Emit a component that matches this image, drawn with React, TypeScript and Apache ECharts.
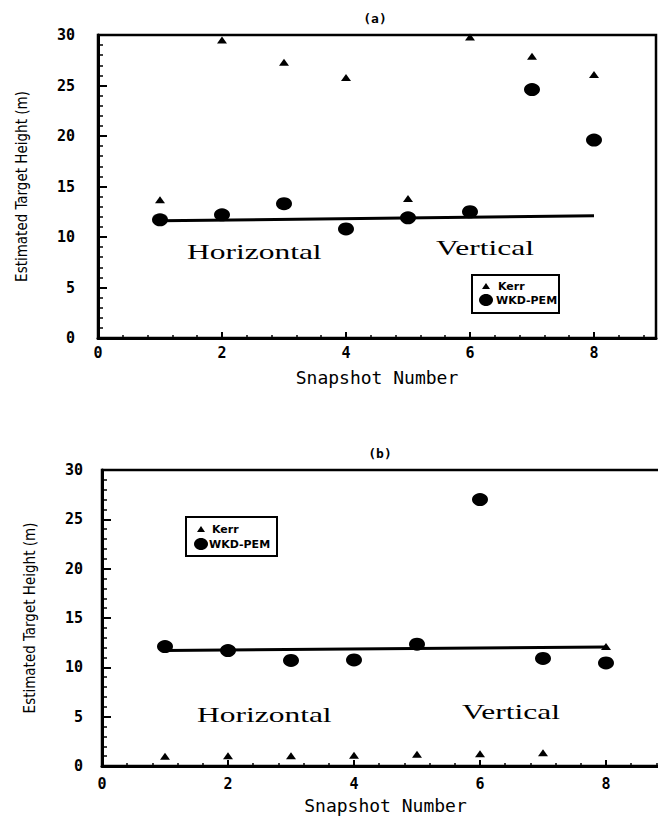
import { useEffect, useRef } from "react";
import * as echarts from "echarts";

// ---- data ----
const snapshots = [1, 2, 3, 4, 5, 6, 7, 8];
const kerrA = [13.7, 29.5, 27.3, 25.8, 13.8, 29.8, 27.9, 26.1];
const wkdA = [11.7, 12.2, 13.3, 10.8, 11.9, 12.5, 24.6, 19.6];
const trueLineA = [
  [1, 11.6],
  [8, 12.1],
];
const kerrB = [1.0, 1.05, 1.05, 1.1, 1.2, 1.25, 1.35, 12.1];
const wkdB = [12.1, 11.7, 10.7, 10.75, 12.35, 27.0, 10.9, 10.45];
const trueLineB = [
  [1, 11.7],
  [8, 12.05],
];
const panelTitles = ["(a)", "(b)"];
const seriesNames = ["Kerr", "WKD-PEM"];
const regionLabels = ["Horizontal", "Vertical"];
const xName = "Snapshot Number";
const yName = "Estimated Target Height (m)";

const pairs = (ys: number[]) => snapshots.map((x, i) => [x, ys[i]]);

const MONO = "DejaVu Sans Mono, Liberation Mono, monospace";

const yAxisCfg = (gridIndex: number, labelMargin: number, nameGap: number) => ({
  type: "value",
  gridIndex,
  min: 0,
  max: 30,
  interval: 5,
  name: yName,
  nameLocation: "middle",
  nameGap,
  nameRotate: 90,
  nameTextStyle: {
    fontFamily: "DejaVu Sans Condensed, DejaVu Sans, sans-serif",
    fontSize: 15,
    color: "#000",
  },
  axisLine: { show: true, lineStyle: { color: "#000", width: 3 } },
  axisTick: { show: true, inside: true, length: 9, lineStyle: { color: "#000", width: 2 } },
  minorTick: { show: true, splitNumber: 5, length: 5, lineStyle: { color: "#000", width: 1.5 } },
  splitLine: { show: false },
  axisLabel: {
    margin: labelMargin,
    fontFamily: MONO,
    fontWeight: "bold",
    fontSize: 15,
    color: "#000",
  },
});

const xAxisCfg = (gridIndex: number, labelMargin: number, nameGap: number) => ({
  type: "value",
  gridIndex,
  min: 0,
  max: 9,
  interval: 2,
  name: xName,
  nameLocation: "middle",
  nameGap,
  nameTextStyle: { fontFamily: MONO, fontSize: 18, color: "#000" },
  axisLine: { show: true, onZero: false, lineStyle: { color: "#000", width: 3 } },
  axisTick: { show: true, inside: true, length: 6, lineStyle: { color: "#000", width: 2 } },
  minorTick: { show: true, splitNumber: 5, length: 3, lineStyle: { color: "#000", width: 1.5 } },
  splitLine: { show: false },
  axisLabel: {
    margin: labelMargin,
    showMaxLabel: false,
    fontFamily: MONO,
    fontWeight: "bold",
    fontSize: 15,
    color: "#000",
  },
});

const serifText = (text: string, x: number, y: number) => ({
  type: "text",
  x,
  y,
  scaleX: 1.5,
  style: {
    text,
    fill: "#000",
    font: "21px 'Liberation Serif', 'Times New Roman', serif",
    align: "left",
    verticalAlign: "middle",
  },
});

const legendBox = (
  bx: number,
  by: number,
  bw: number,
  bh: number,
  sx: number,
  row1: number,
  row2: number,
  t1: number,
  t2: number
) => [
  {
    type: "rect",
    shape: { x: bx, y: by, width: bw, height: bh },
    style: { fill: "#fff", stroke: "#000", lineWidth: 2 },
    z: 10,
  },
  {
    type: "polygon",
    shape: {
      points: [
        [sx - 4, row1 + 3],
        [sx + 4, row1 + 3],
        [sx, row1 - 3],
      ],
    },
    style: { fill: "#000" },
    z: 11,
  },
  {
    type: "text",
    x: t1,
    y: row1,
    style: {
      text: seriesNames[0],
      fill: "#000",
      font: "bold 11px 'DejaVu Sans', sans-serif",
      verticalAlign: "middle",
    },
    z: 11,
  },
  {
    type: "ellipse",
    shape: { cx: sx, cy: row2, rx: 7, ry: 6 },
    style: { fill: "#000" },
    z: 11,
  },
  {
    type: "text",
    x: t2,
    y: row2,
    style: {
      text: seriesNames[1],
      fill: "#000",
      font: "bold 11px 'DejaVu Sans', sans-serif",
      verticalAlign: "middle",
    },
    z: 11,
  },
];

export default function App() {
  const ref = useRef<HTMLDivElement>(null);

  useEffect(() => {
    if (!ref.current) return;
    const chart = echarts.init(ref.current, undefined, { renderer: "svg" });

    const lineSeries = (data: number[][], idx: number) => ({
      type: "line",
      xAxisIndex: idx,
      yAxisIndex: idx,
      data,
      showSymbol: false,
      symbol: "none",
      lineStyle: { color: "#000", width: 3 },
      z: 2,
    });
    const kerrSeries = (ys: number[], idx: number) => ({
      name: seriesNames[0],
      type: "scatter",
      xAxisIndex: idx,
      yAxisIndex: idx,
      data: pairs(ys),
      symbol: "triangle",
      symbolSize: [10, 7],
      itemStyle: { color: "#000", opacity: 1 },
      z: 3,
    });
    const wkdSeries = (ys: number[], idx: number) => ({
      name: seriesNames[1],
      type: "scatter",
      xAxisIndex: idx,
      yAxisIndex: idx,
      data: pairs(ys),
      symbol: "circle",
      symbolSize: [16, 13],
      itemStyle: { color: "#000", opacity: 1 },
      z: 4,
    });

    chart.setOption({
      animation: false,
      backgroundColor: "#fff",
      grid: [
        {
          left: 98,
          top: 35,
          width: 558,
          height: 303,
          show: true,
          borderColor: "#000",
          borderWidth: 2.5,
          backgroundColor: "transparent",
        },
        {
          left: 102,
          top: 470,
          width: 567,
          height: 296,
          show: true,
          borderColor: "#000",
          borderWidth: 2.5,
          backgroundColor: "transparent",
        },
      ],
      xAxis: [xAxisCfg(0, 7, 30), xAxisCfg(1, 10, 30)],
      yAxis: [yAxisCfg(0, 23, 69), yAxisCfg(1, 19, 65)],
      series: [
        lineSeries(trueLineA, 0),
        kerrSeries(kerrA, 0),
        wkdSeries(wkdA, 0),
        lineSeries(trueLineB, 1),
        kerrSeries(kerrB, 1),
        wkdSeries(wkdB, 1),
      ],
      graphic: [
        {
          type: "text",
          x: 375,
          y: 18,
          style: {
            text: panelTitles[0],
            fill: "#000",
            font: "bold 13px " + MONO,
            align: "center",
            verticalAlign: "middle",
          },
        },
        {
          type: "text",
          x: 380,
          y: 453,
          style: {
            text: panelTitles[1],
            fill: "#000",
            font: "bold 13px " + MONO,
            align: "center",
            verticalAlign: "middle",
          },
        },
        serifText(regionLabels[0], 187, 252),
        serifText(regionLabels[1], 436, 248),
        serifText(regionLabels[0], 197, 715),
        serifText(regionLabels[1], 462, 712),
        ...legendBox(472, 275, 87, 38, 486, 286, 300, 498, 496),
        ...legendBox(186, 517, 91, 39, 201, 529, 544, 212, 209),
      ],
    });

    return () => chart.dispose();
  }, []);

  return (
    <div
      style={{
        position: "absolute",
        left: 0,
        top: 0,
        width: 658,
        height: 819,
        overflow: "hidden",
      }}
    >
      <div ref={ref} style={{ width: 690, height: 819 }} />
    </div>
  );
}
